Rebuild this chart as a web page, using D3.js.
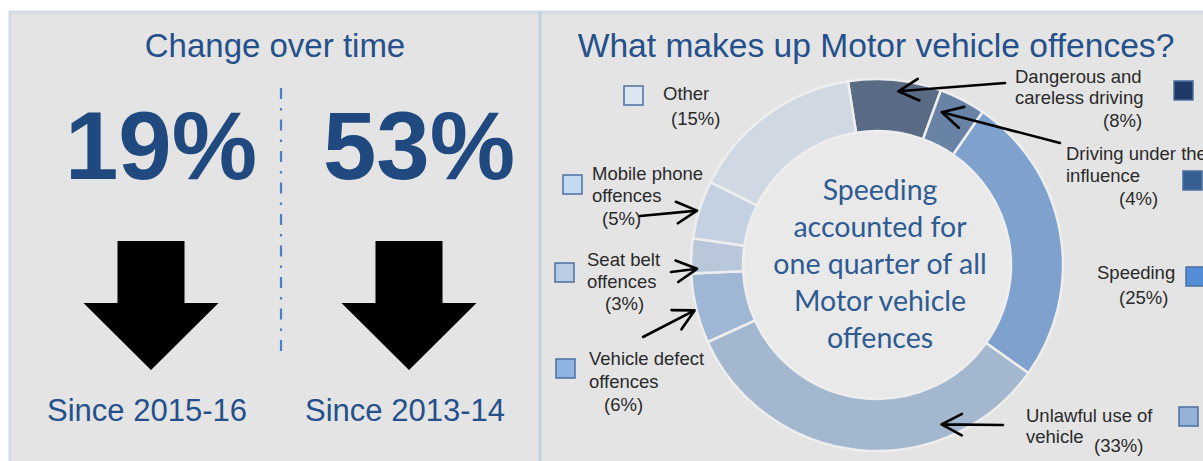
<!DOCTYPE html>
<html>
<head>
<meta charset="utf-8">
<script src="https://cdn.jsdelivr.net/npm/d3@7"></script>
<style>
  html, body { margin: 0; padding: 0; background: #fff; overflow: hidden; }
  svg { display: block; }
</style>
</head>
<body>
<div id="chart"></div>
<script>
// data
var categories = ["Dangerous and careless driving", "Driving under the influence", "Speeding",
                  "Unlawful use of vehicle", "Vehicle defect offences", "Seat belt offences",
                  "Mobile phone offences", "Other"];
var shares = [8, 4, 25, 33, 6, 3, 5, 15];
var labelLines = [["Dangerous and", "careless driving"], ["Driving under the", "influence"], ["Speeding"],
                  ["Unlawful use of", "vehicle"], ["Vehicle defect", "offences"], ["Seat belt", "offences"],
                  ["Mobile phone", "offences"], ["Other"]];
var changeValues = [19, 53];
var changePeriods = ["Since 2015-16", "Since 2013-14"];
var centreLines = ["Speeding", "accounted for", "one quarter of all", "Motor vehicle", "offences"];

// colours
var keyColors = ["#1f3864", "#355f93", "#538dd5", "#95b3d7", "#8db4e2", "#b8cce4", "#c5d9f1", "#dce6f2"];
var ringColors = ["#5a6b86", "#6883a5", "#7fa1cd", "#a3b7cf", "#9fb6d5", "#b8c7da", "#c4d1e2", "#d0d8e3"];
var blueText = "#24508b";

// label layout: key square, text lines (x, baseline), arrow (tail, tip as slice fraction + radius)
var layout = [
  { sq: [1174, 81], lines: [[1015, 83], [1015, 104], [1103, 127]], tail: [1005, 83], f: 0.55, r: 175 },
  { sq: [1183, 171], lines: [[1066, 160], [1066, 182], [1119, 205]], tail: [1060, 143], f: 0.2, r: 166 },
  { sq: [1186, 267], lines: [[1097, 279], [1119, 304]] },
  { sq: [1179, 407], lines: [[1026, 422], [1026, 443], [1094, 452]], tail: [1003, 425], f: 0.27, r: 172 },
  { sq: [556, 359], lines: [[589, 365], [589, 388], [604, 411]], tail: [643, 337], f: 0.48, r: 188 },
  { sq: [555, 263], lines: [[587, 266], [587, 288], [605, 310]], tail: [671, 272], f: 0.13, r: 180 },
  { sq: [563, 175], lines: [[592, 180], [592, 202], [602, 225]], tail: [640, 216], f: 0.47, r: 188 },
  { sq: [624, 86], lines: [[663, 100], [671, 125]] }
];

var W = 1203, H = 461;
var svg = d3.select('#chart').append('svg')
            .attr('width', W)
            .attr('height', H);

// panels
svg.append('rect').attr('x', 10).attr('y', 12).attr('width', 530).attr('height', 470)
   .attr('fill', '#e4e4e4').attr('stroke', '#d3dbe4').attr('stroke-width', 3);
svg.append('rect').attr('x', 540).attr('y', 12).attr('width', 680).attr('height', 470)
   .attr('fill', '#e4e4e4').attr('stroke', '#d3dbe4').attr('stroke-width', 3);
svg.append('line').attr('x1', 540).attr('x2', 540).attr('y1', 12).attr('y2', H)
   .attr('stroke', '#c6d0dc').attr('stroke-width', 3);

// ---- left panel: change over time
var left = svg.append('g');
left.append('text').attr('x', 275).attr('y', 57).attr('text-anchor', 'middle')
    .attr('font-family', 'Liberation Sans, Arial, sans-serif').attr('font-size', 33)
    .attr('fill', blueText).text('Change over time');

var col = d3.scaleBand().domain(changePeriods).range([22, 538]);
var cx = function(p) { return col(p) + col.bandwidth() / 2; };

left.append('line').attr('x1', 281).attr('x2', 281).attr('y1', 88).attr('y2', 358)
    .attr('stroke', '#4a7fc2').attr('stroke-width', 2.2)
    .attr('stroke-dasharray', '11,9,2.5,9');

changePeriods.forEach(function(p, i) {
  var c = cx(p);
  left.append('text').attr('x', c + 10).attr('y', 179).attr('text-anchor', 'middle')
      .attr('font-family', 'Liberation Sans, Arial, sans-serif').attr('font-weight', 'bold')
      .attr('font-size', 96).attr('fill', '#204a7f').text(changeValues[i] + '%');
  var arrow = d3.path();
  arrow.moveTo(c - 33.5, 241);
  arrow.lineTo(c + 33.5, 241);
  arrow.lineTo(c + 33.5, 303);
  arrow.lineTo(c + 67.5, 303);
  arrow.lineTo(c, 370);
  arrow.lineTo(c - 67.5, 303);
  arrow.lineTo(c - 33.5, 303);
  arrow.closePath();
  left.append('path').attr('d', arrow.toString()).attr('fill', '#000');
  left.append('text').attr('x', c - 4).attr('y', 421).attr('text-anchor', 'middle')
      .attr('font-family', 'Liberation Sans, Arial, sans-serif').attr('font-size', 31)
      .attr('fill', blueText).text(p);
});

// ---- right panel: donut
var right = svg.append('g');
right.append('text').attr('x', 876).attr('y', 57).attr('text-anchor', 'middle')
     .attr('font-family', 'Liberation Sans, Arial, sans-serif').attr('font-size', 33.6)
     .attr('fill', blueText).text('What makes up Motor vehicle offences?');

var cX = 877, cY = 265, rOut = 186, rIn = 134;
var a0 = -9 * Math.PI / 180;
var pie = d3.pie().sort(null).startAngle(a0).endAngle(a0 + 2 * Math.PI);
var slices = pie(shares);
var arc = d3.arc().innerRadius(rIn).outerRadius(rOut);

var ring = right.append('g').attr('transform', 'translate(' + cX + ',' + cY + ')');
ring.append('circle').attr('r', rIn).attr('fill', '#e9e9e9');
ring.selectAll('path').data(slices).enter().append('path')
    .attr('d', arc)
    .attr('fill', function(d, i) { return ringColors[i]; })
    .attr('stroke', '#eeeeee').attr('stroke-width', 2.5);

var centre = ring.append('text').attr('text-anchor', 'middle')
    .attr('font-family', 'Lato, sans-serif').attr('font-size', 28.5).attr('fill', '#2e5b92');
centreLines.forEach(function(t, i) {
  centre.append('tspan').attr('x', 3).attr('y', -65 + i * 37).text(t);
});

// key squares and labels
var labels = right.append('g').attr('font-family', 'Liberation Sans, Arial, sans-serif')
                  .attr('font-size', 18.5).attr('fill', '#2a2a2a');
categories.forEach(function(c, i) {
  var L = layout[i];
  labels.append('rect').attr('x', L.sq[0]).attr('y', L.sq[1]).attr('width', 19).attr('height', 19)
        .attr('fill', keyColors[i]).attr('stroke', '#4a6fa0').attr('stroke-width', 1.5);
  var lines = labelLines[i].concat(['(' + shares[i] + '%)']);
  lines.forEach(function(t, j) {
    labels.append('text').attr('x', L.lines[j][0]).attr('y', L.lines[j][1]).text(t);
  });
});

// pointer arrows
var arrows = right.append('g').attr('fill', 'none').attr('stroke', '#000')
                  .attr('stroke-width', 2.6).attr('stroke-linecap', 'round').attr('stroke-linejoin', 'round');
slices.forEach(function(s, i) {
  var L = layout[i];
  if (!L.tail) return;
  var ang = s.startAngle + L.f * (s.endAngle - s.startAngle);
  var tx = cX + L.r * Math.sin(ang), ty = cY - L.r * Math.cos(ang);
  var dir = Math.atan2(L.tail[1] - ty, L.tail[0] - tx);
  var hl = 23, ha = 28 * Math.PI / 180;
  var p = d3.path();
  p.moveTo(L.tail[0], L.tail[1]);
  p.lineTo(tx, ty);
  p.moveTo(tx + hl * Math.cos(dir - ha), ty + hl * Math.sin(dir - ha));
  p.lineTo(tx, ty);
  p.lineTo(tx + hl * Math.cos(dir + ha), ty + hl * Math.sin(dir + ha));
  arrows.append('path').attr('d', p.toString());
});
</script>
</body>
</html>
